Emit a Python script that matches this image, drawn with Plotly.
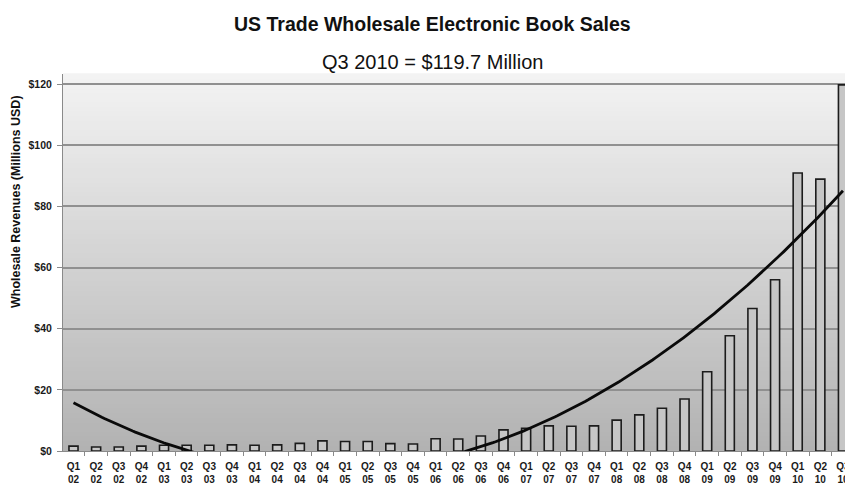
import numpy as np
import plotly.graph_objects as go

# Quarterly US trade wholesale e-book revenues, millions of USD
quarters = [
    "Q1<br>02", "Q2<br>02", "Q3<br>02", "Q4<br>02",
    "Q1<br>03", "Q2<br>03", "Q3<br>03", "Q4<br>03",
    "Q1<br>04", "Q2<br>04", "Q3<br>04", "Q4<br>04",
    "Q1<br>05", "Q2<br>05", "Q3<br>05", "Q4<br>05",
    "Q1<br>06", "Q2<br>06", "Q3<br>06", "Q4<br>06",
    "Q1<br>07", "Q2<br>07", "Q3<br>07", "Q4<br>07",
    "Q1<br>08", "Q2<br>08", "Q3<br>08", "Q4<br>08",
    "Q1<br>09", "Q2<br>09", "Q3<br>09", "Q4<br>09",
    "Q1<br>10", "Q2<br>10", "Q3<br>10",
]
revenues = [
    1.6, 1.3, 1.3, 1.6,
    1.9, 1.9, 1.9, 2.0,
    1.9, 2.0, 2.5, 3.3,
    3.1, 3.1, 2.4, 2.3,
    4.0, 3.9, 4.9, 6.9,
    7.4, 8.2, 8.1, 8.2,
    10.1, 11.8, 14.0, 17.0,
    25.9, 37.7, 46.6, 56.0,
    90.9, 88.9, 119.7,
]
y_ticks = [0, 20, 40, 60, 80, 100, 120]
y_tick_text = ["$0", "$20", "$40", "$60", "$80", "$100", "$120"]

positions = np.arange(len(quarters))

# Second-order polynomial trend fitted to the quarterly revenues
coef = np.polyfit(positions, revenues, 2)
trend_x = np.linspace(0, len(quarters) - 1, 300)
trend_y = np.polyval(coef, trend_x)

FONT = "Liberation Sans, Arial, sans-serif"

fig = go.Figure()
fig.add_trace(go.Bar(
    x=positions, y=revenues, width=0.4,
    marker=dict(color="#c6c6c6", line=dict(color="#1c1c1c", width=1.6)),
    hoverinfo="y",
))
fig.add_trace(go.Scatter(
    x=trend_x, y=trend_y, mode="lines",
    line=dict(color="#0a0a0a", width=2.8),
    hoverinfo="skip",
))

# Vertical grey gradient behind the plot area
bands = 80
top_rgb = np.array([243, 243, 243])
bot_rgb = np.array([178, 178, 178])
shapes = []
for i in range(bands):
    t = (i + 0.5) / bands
    c = (bot_rgb + (top_rgb - bot_rgb) * t).round().astype(int)
    shapes.append(dict(
        type="rect", xref="paper", yref="paper",
        x0=0, x1=1, y0=i / bands, y1=(i + 1) / bands + 0.002,
        fillcolor=f"rgb({c[0]},{c[1]},{c[2]})",
        line=dict(width=0), layer="below",
    ))

fig.update_layout(
    width=845, height=486,
    margin=dict(l=63, r=0, t=74, b=35, autoexpand=False),
    paper_bgcolor="white", plot_bgcolor="rgba(0,0,0,0)",
    showlegend=False, shapes=shapes,
    font=dict(family=FONT, color="#111111"),
    xaxis=dict(
        range=[-0.464, 34.09],
        tickmode="array", tickvals=positions, ticktext=quarters,
        ticks="", showgrid=False, zeroline=False,
        showline=True, linecolor="#8a8a8a", linewidth=1,
        tickfont=dict(family=FONT, size=10, color="#1a1a1a", weight="bold"),
        ticklabelstandoff=6, ticklabeloverflow="allow", automargin=False,
        minor=dict(tick0=0.5, dtick=1, ticks="outside", ticklen=4,
                   tickcolor="#8a8a8a", showgrid=False),
        fixedrange=True,
    ),
    yaxis=dict(
        range=[0, 123.27],
        tickmode="array", tickvals=y_ticks, ticktext=y_tick_text,
        ticks="outside", ticklen=5, tickcolor="#8a8a8a",
        showgrid=True, gridcolor="#909090", gridwidth=1.6,
        zeroline=False, automargin=False,
        showline=True, linecolor="#8a8a8a", linewidth=1,
        tickfont=dict(family=FONT, size=10.5, color="#1a1a1a", weight="bold"),
        ticklabelstandoff=3,
        fixedrange=True,
    ),
    annotations=[
        dict(text="<b>US Trade Wholesale Electronic Book Sales</b>",
             xref="paper", yref="paper", x=0.472, y=1.1326,
             xanchor="center", yanchor="middle", showarrow=False,
             font=dict(family=FONT, size=19.5, color="#111111")),
        dict(text="Q3 2010 = $119.7 Million",
             xref="paper", yref="paper", x=0.472, y=1.0318,
             xanchor="center", yanchor="middle", showarrow=False,
             font=dict(family=FONT, size=20, color="#111111")),
        dict(text="<b>Wholesale Revenues (Millions USD)</b>",
             xref="paper", yref="paper", x=-0.0601, y=0.6605,
             xanchor="center", yanchor="middle", showarrow=False,
             textangle=-90,
             font=dict(family=FONT, size=12.5, color="#111111")),
    ],
)

fig.write_html("out.html")
